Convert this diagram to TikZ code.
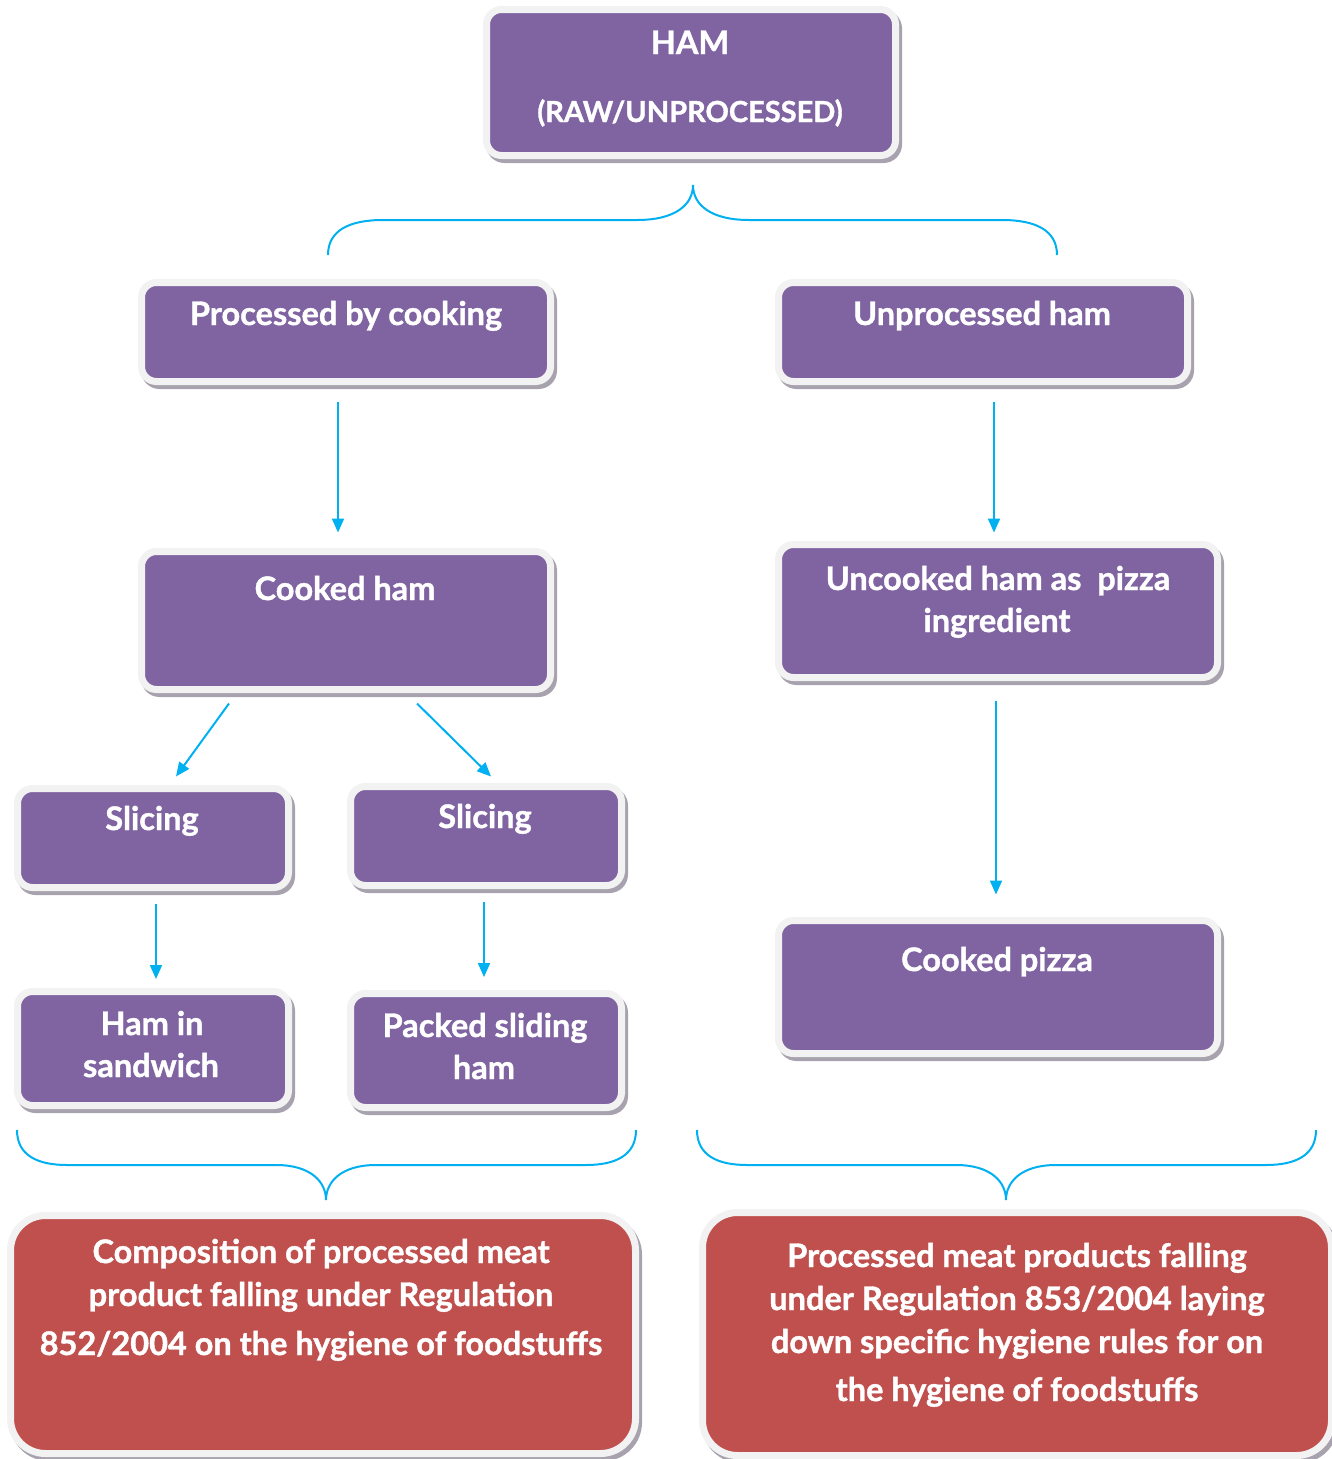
\documentclass[tikz,border=0pt]{standalone}
\usepackage{fontspec}
\setmainfont{Lato}[BoldFeatures={FakeBold=1.2}]
\usetikzlibrary{shadows,arrows.meta}
\definecolor{pur}{HTML}{8064A2}
\definecolor{redb}{HTML}{C0504D}
\definecolor{bord}{HTML}{F2F2F2}
\definecolor{shad}{HTML}{A7A2AD}
\definecolor{blu}{HTML}{00B0F0}
\tikzset{
 box/.style={rectangle, rounded corners=15pt, draw=bord, line width=7pt, inner sep=0pt,
   general shadow={fill=shad, draw=shad, line width=7pt, shadow xshift=3pt, shadow yshift=-4pt}},
 pbox/.style={box, fill=pur},
 rbox/.style={box, fill=redb, rounded corners=35pt},
 txt/.style={text=white, font=\bfseries\fontsize{32.5}{38}\selectfont, anchor=base, inner sep=0pt},
 txtsm/.style={txt, font=\bfseries\fontsize{29}{34}\selectfont},
 arr/.style={draw=blu, line width=2pt, -{Triangle[length=14pt,width=12pt]}},
 brace/.style={draw=blu, line width=2pt},
}
\begin{document}
\begin{tikzpicture}[x=1pt,y=-1pt]
\useasboundingbox (0,0) rectangle (1332,1459);
% boxes
\node[pbox, minimum width=409pt, minimum height=146pt] (ham) at (691,82.5) {};
\node[pbox, minimum width=409pt, minimum height=99pt] (proc) at (346,332) {};
\node[pbox, minimum width=409pt, minimum height=99pt] (unproc) at (983,332) {};
\node[pbox, minimum width=409pt, minimum height=138pt] (cooked) at (346,620.5) {};
\node[pbox, minimum width=439pt, minimum height=133pt] (uncooked) at (998,611) {};
\node[pbox, minimum width=271pt, minimum height=99pt] (slL) at (153,838) {};
\node[pbox, minimum width=271pt, minimum height=99pt] (slM) at (486,836) {};
\node[pbox, minimum width=271pt, minimum height=114pt] (sand) at (153,1048.5) {};
\node[pbox, minimum width=271pt, minimum height=114pt] (packed) at (486,1050.5) {};
\node[pbox, minimum width=439pt, minimum height=133pt] (pizza) at (998,987) {};
\node[rbox, minimum width=625pt, minimum height=238pt] (redL) at (323,1334.5) {};
\node[rbox, minimum width=629pt, minimum height=243pt] (redR) at (1017,1334) {};
% texts
\node[txt] (tham) at (690,54) {HAM};
\node[txtsm] (traw) at (690,122) {(RAW/UNPROCESSED)};
\node[txt] (tproc) at (346,325) {Processed by cooking};
\node[txt] (tunproc) at (982,325) {Unprocessed ham};
\node[txt] (tcooked) at (345,600) {Cooked ham};
\node[txt] (tunc1) at (998,590) {Uncooked ham as\ \ pizza};
\node[txt] (tunc2) at (997,632) {ingredient};
\node[txt] (tslL) at (152,830) {Slicing};
\node[txt] (tslM) at (485,828) {Slicing};
\node[txt] (tsand1) at (152,1035) {Ham in};
\node[txt] (tsand2) at (151,1077) {sandwich};
\node[txt] (tpack1) at (485,1037) {Packed sliding};
\node[txt] (tpack2) at (484,1079) {ham};
\node[txt] (tpizza) at (997,971) {Cooked pizza};
\node[txt] (tl1) at (321,1263) {Composition of processed meat};
\node[txt] (tl2) at (321,1306) {product falling under Regulation};
\node[txt] (tl3) at (321,1355) {852/2004 on the hygiene of foodstuffs};
\node[txt] (tr1) at (1017,1267) {Processed meat products falling};
\node[txt] (tr2) at (1017,1310) {under Regulation 853/2004 laying};
\node[txt] (tr3) at (1017,1353) {down specific hygiene rules for on};
\node[txt] (tr4) at (1017,1401) {the hygiene of foodstuffs};
% arrows
\draw[arr] ([shift={(-8,16.5)}]proc.south) -- ([shift={(-8,-15.5)}]cooked.north);
\draw[arr] ([shift={(11,16.5)}]unproc.south) -- ([shift={(-4,-8.5)}]uncooked.north);
\draw[arr] ([shift={(-117,10.5)}]cooked.south) -- ([shift={(23,-8.5)}]slL.north);
\draw[arr] ([shift={(71,10.5)}]cooked.south) -- ([shift={(5,-6.5)}]slM.north);
\draw[arr] ([shift={(3,12.5)}]slL.south) -- ([shift={(3,-9)}]sand.north);
\draw[arr] ([shift={(-2,12.5)}]slM.south) -- ([shift={(-2,-13)}]packed.north);
\draw[arr] ([shift={(-2,19.5)}]uncooked.south) -- ([shift={(-2,-22.5)}]pizza.north);
% braces
\draw[brace] (328,255) .. controls (328,230) and (350,220) .. (383,220) -- (637,220)
  .. controls (675,220) and (693,205) .. (693,185)
  .. controls (693,205) and (711,220) .. (749,220) -- (1002,220)
  .. controls (1035,220) and (1057,230) .. (1057,255);
\draw[brace] (17,1130) .. controls (17,1155) and (37,1165) .. (67,1165) -- (276,1165)
  .. controls (311,1165) and (326,1182) .. (326,1200)
  .. controls (326,1182) and (341,1165) .. (376,1165) -- (586,1165)
  .. controls (616,1165) and (636,1155) .. (636,1130);
\draw[brace] (697,1130) .. controls (697,1155) and (717,1165) .. (747,1165) -- (956,1165)
  .. controls (991,1165) and (1006,1182) .. (1006,1200)
  .. controls (1006,1182) and (1021,1165) .. (1056,1165) -- (1266,1165)
  .. controls (1296,1165) and (1316,1155) .. (1316,1130);
\end{tikzpicture}
\end{document}
